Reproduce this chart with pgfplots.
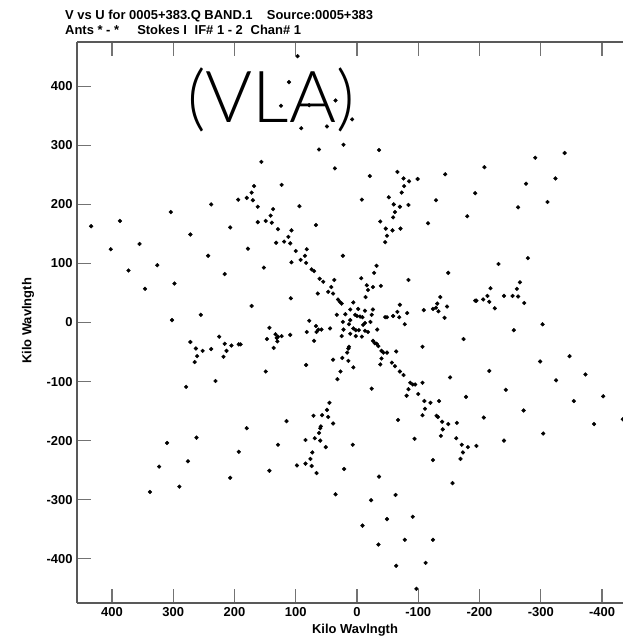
\documentclass[border=0pt]{standalone}
\usepackage{pgfplots}
\pgfplotsset{compat=1.18}
\usepackage{fontspec}
\setmainfont{Liberation Sans}
\newfontfamily\vlafont{Lato Light}
\pgfplotstableread{
u v
97 451
111 407
124 367
78 368
35 376
91 329
49 332
62 293
36 261
156 272
123 233
168 231
172 220
180 211
170 207
194 208
238 200
304 187
94 197
162 196
137 192
141 181
162 170
149 172
139 169
129 158
67 165
434 163
387 172
207 161
107 156
112 145
272 149
402 124
355 133
178 125
132 135
119 137
109 134
100 121
82 124
85 113
243 113
107 102
92 106
83 101
373 88
326 97
152 93
74 90
70 87
216 82
61 74
55 69
37 72
346 57
298 66
64 49
47 52
42 60
39 49
8 344
22 301
-36 292
-21 248
-66 255
-76 244
-85 239
-99 243
-77 231
-144 251
-208 263
-291 279
-339 287
-276 235
-324 244
-8 208
-52 212
-73 220
-60 200
-70 196
-84 199
-129 207
-193 219
-263 195
-311 204
-62 187
-59 178
-38 171
-180 180
-116 168
-47 159
-58 156
-71 159
-49 147
-46 136
23 113
-32 96
-231 99
-279 109
-28 84
-149 84
-7 75
-84 72
-16 63
-26 60
-39 62
-266 68
-18 55
-218 58
-261 57
-14 43
31 39
28 35
25 32
6 34
-70 30
11 22
-2 23
-13 20
-26 22
33 13
19 14
3 13
0 11
-5 10
-9 9
-24 13
-46 9
-49 9
-59 11
-66 18
-69 9
-82 16
78 3
23 1
11 4
-13 -1
-22 1
13 -3
-10 -4
-78 -3
67 -6
63 -12
58 -12
66 -16
44 -10
22 -12
6 -10
2 -13
-3 -13
-13 -14
-33 -12
82 -16
11 -19
-18 -16
25 -23
2 -23
-8 -24
70 -31
-26 -31
-29 -35
-32 -36
-35 -40
13 -41
14 -44
16 -51
-40 -48
-43 -51
-49 -51
-64 -49
24 -60
39 -63
14 -65
-40 -61
-38 -71
-57 -68
6 -76
-62 -74
83 -72
27 -83
-70 -83
-76 -89
108 41
172 28
255 13
302 4
143 -9
225 -24
147 -28
133 -20
131 -26
129 -24
123 -23
109 -21
130 -32
136 -43
272 -33
263 -44
252 -48
238 -45
216 -36
205 -39
193 -37
190 -37
213 -48
218 -58
261 -57
265 -67
149 -83
-136 43
-131 32
-109 21
-124 23
-129 25
-133 19
-147 27
-143 8
-193 37
-195 37
-206 39
-216 35
-213 45
-240 45
-254 45
-263 44
-273 33
-225 24
-303 -3
-256 -13
-174 -28
-107 -41
-347 -57
-299 -66
-216 -82
-373 -88
231 -99
279 -109
45 -136
49 -148
47 -160
57 -157
71 -158
39 -171
59 -176
60 -179
62 -187
69 -196
84 -199
60 -200
115 -167
180 -179
262 -195
310 -204
129 -207
51 -211
73 -220
193 -219
276 -235
76 -231
84 -239
98 -242
74 -243
323 -244
143 -251
66 -255
207 -263
290 -278
338 -287
35 -291
32 -96
21 -248
7 -207
-24 -112
-67 -165
-81 -124
-84 -113
-87 -102
-91 -105
-95 -105
-100 -121
-107 -102
-152 -93
-178 -126
-243 -114
-325 -98
-110 -133
-120 -136
-134 -133
-111 -146
-107 -157
-130 -158
-132 -160
-139 -168
-149 -172
-163 -170
-140 -181
-137 -192
-162 -196
-171 -207
-173 -220
-181 -211
-195 -209
-169 -231
-207 -161
-272 -149
-240 -200
-304 -188
-354 -133
-402 -125
-387 -172
-434 -164
-94 -197
-124 -233
-36 -261
-156 -272
-23 -301
-63 -292
-49 -333
-9 -344
-91 -329
-78 -368
-124 -368
-35 -376
-64 -412
-112 -407
-97 -451
}\uvdata
\begin{document}
\begin{tikzpicture}[x=1bp,y=1bp]
\path[use as bounding box] (-77,-37) rectangle (546,603);
\begin{axis}[
  at={(0,0)}, anchor=south west,
  scale only axis, width=546bp, height=561bp,
  x dir=reverse,
  xmin=-434.3, xmax=457.1, ymin=-475, ymax=475,
  axis x line*=box, axis y line*=left,
  axis line style={draw=black!65, line width=1.3bp},
  xtick={-400,-300,...,400}, ytick={-400,-300,...,400},
  tick align=inside, major tick length=14bp,
  every tick/.style={draw=black!55, line width=1.2bp},
  /pgf/number format/assume math mode=true,
  ticklabel style={font=\bfseries\fontsize{13}{13}\selectfont},
  xticklabel style={yshift=-1bp},
  yticklabel style={xshift=-1bp},
  clip=true,
]
\addplot[only marks, mark=*, mark size=1.9bp, black] table[x=u, y=v] {\uvdata};
\end{axis}
\node[anchor=base west, inner sep=0, font=\bfseries\fontsize{13}{13}\selectfont] at (-12,583) {V vs U for 0005+383.Q BAND.1\hspace{1.1em}Source:0005+383};
\node[anchor=base west, inner sep=0, font=\bfseries\fontsize{13}{13}\selectfont] at (-12,568) {Ants * - *\hspace{1.4em}Stokes I\hspace{0.6em}IF\# 1 - 2\hspace{0.6em}Chan\# 1};
\node[inner sep=0, font=\bfseries\fontsize{13}{13}\selectfont] at (278,-27) {Kilo Wavlngth};
\node[inner sep=0, rotate=90, font=\bfseries\fontsize{13}{13}\selectfont] at (-49,282) {Kilo Wavlngth};
\node[inner sep=0, font=\vlafont\fontsize{72}{72}\selectfont] at (194,503) {(VLA)};
\end{tikzpicture}
\end{document}
